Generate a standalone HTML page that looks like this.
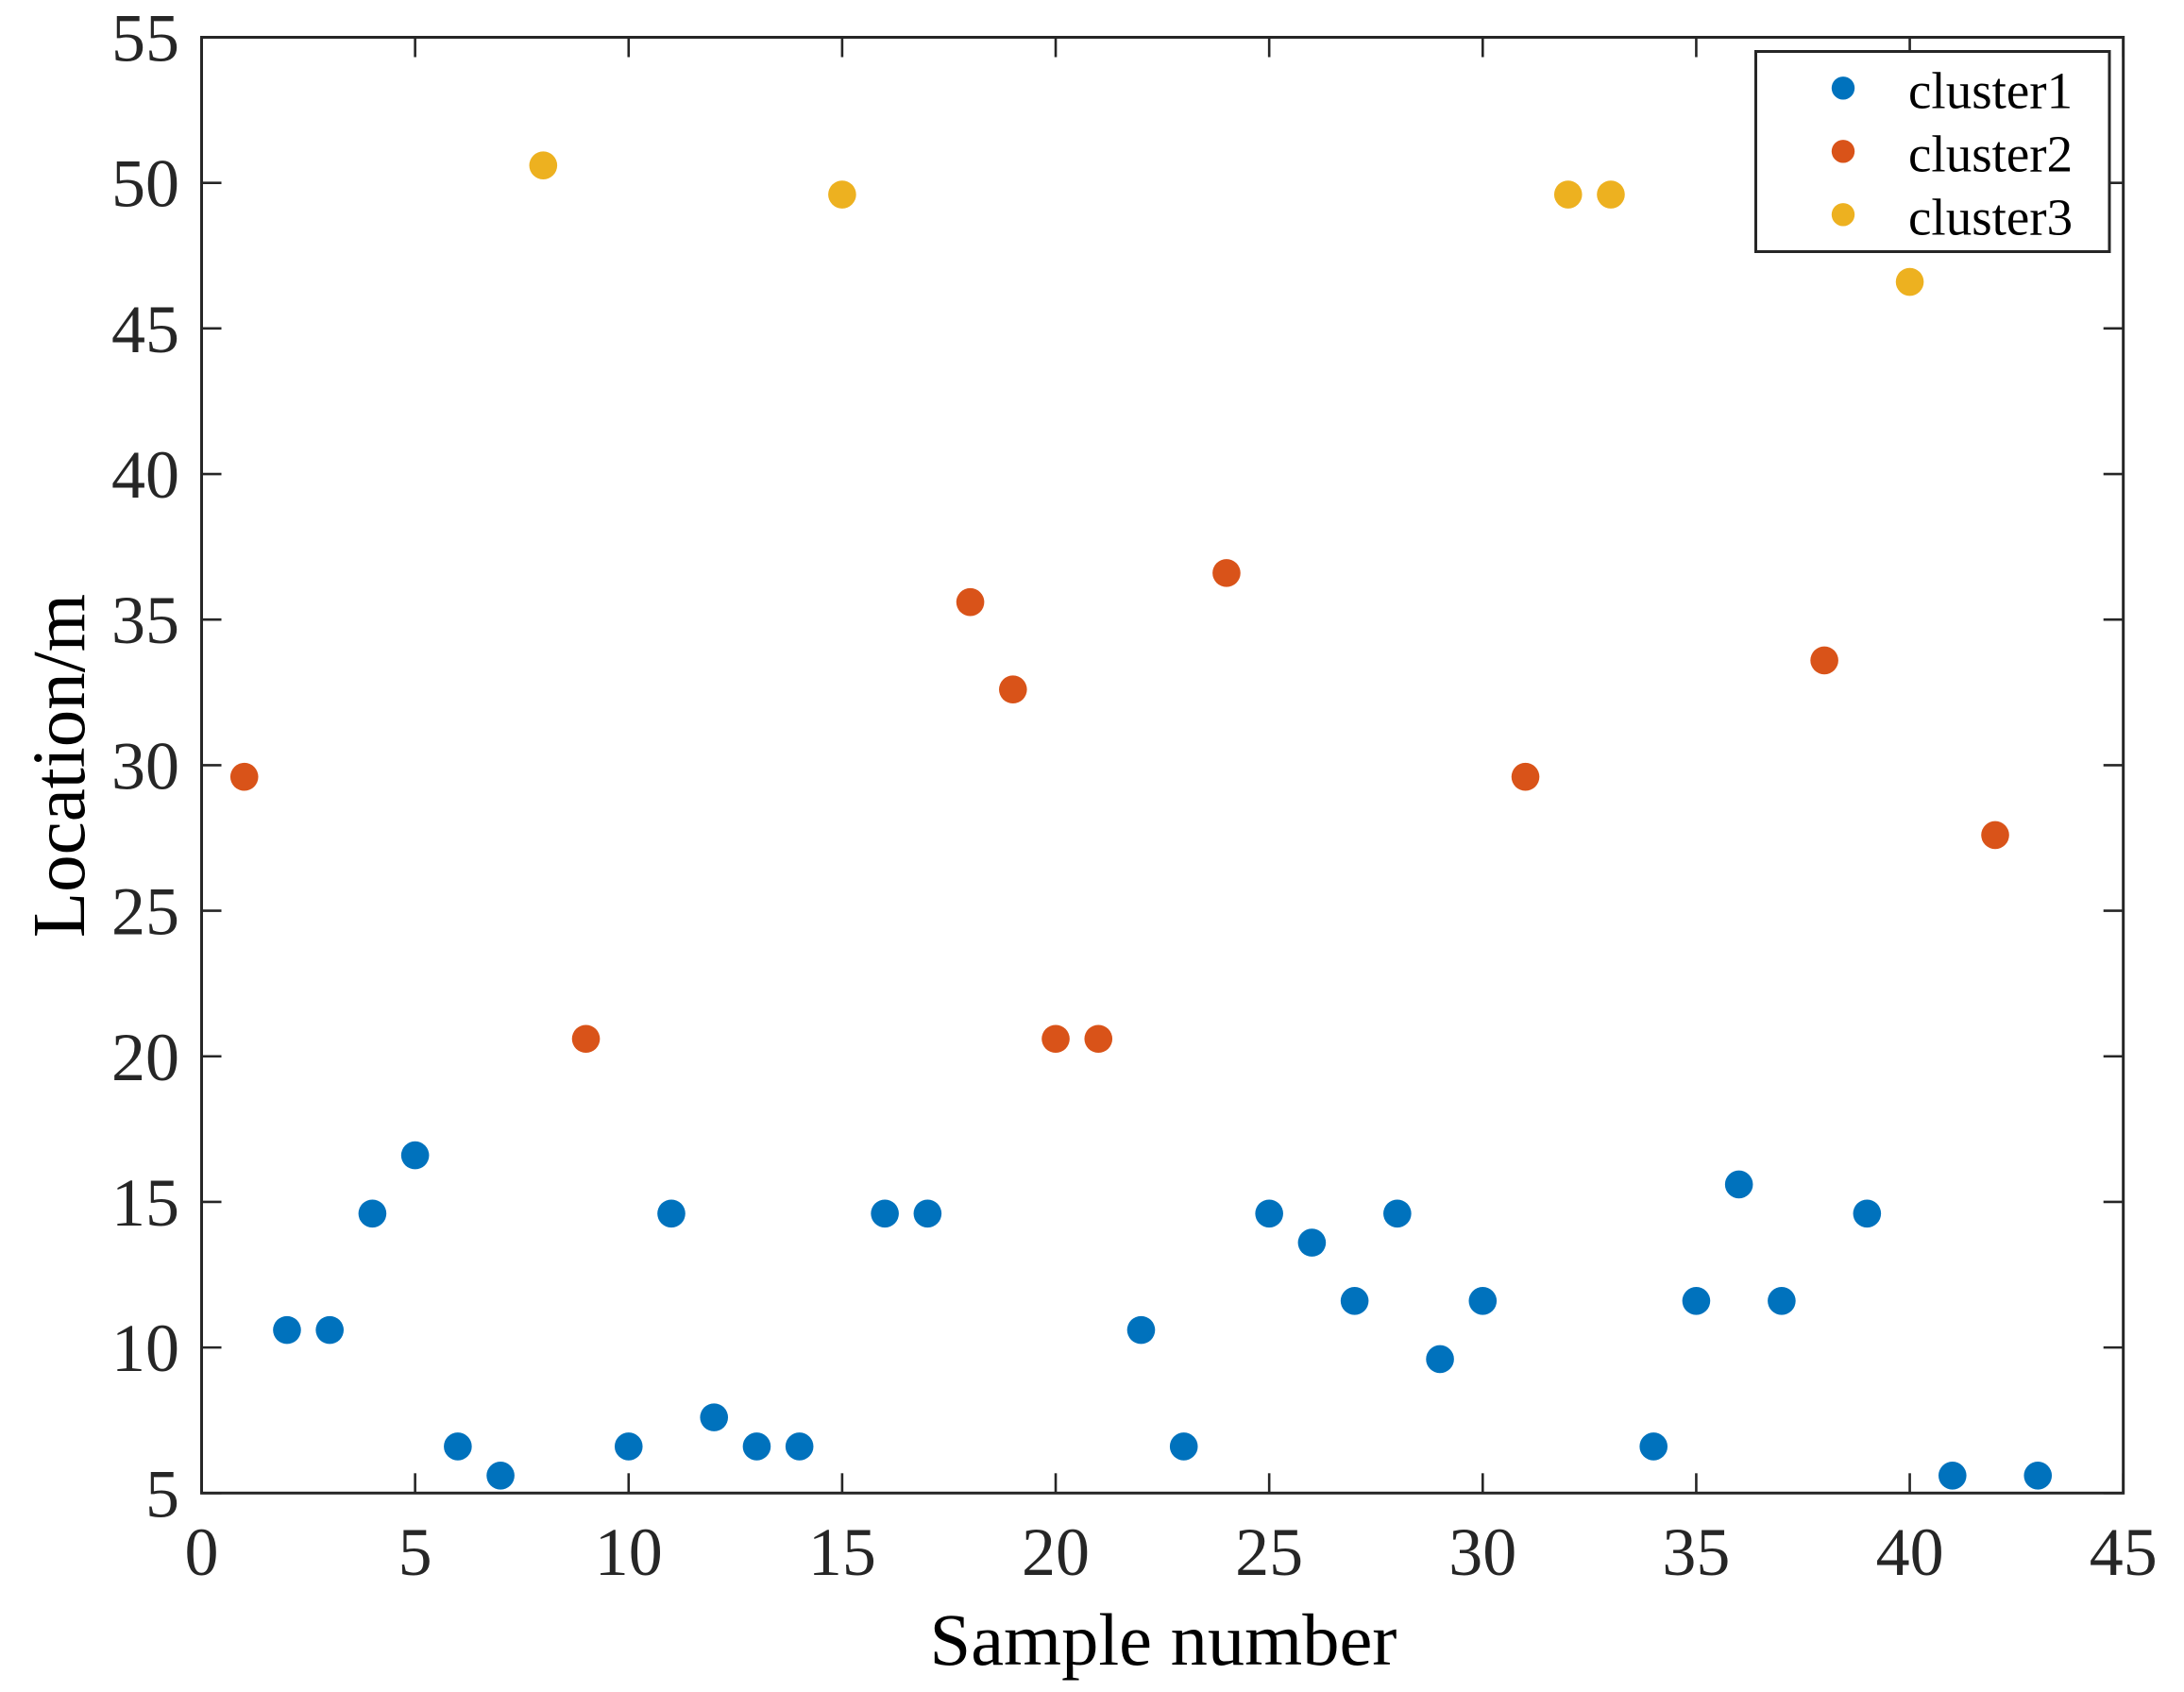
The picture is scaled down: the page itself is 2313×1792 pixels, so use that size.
<!DOCTYPE html>
<html lang="en">
<head>
<meta charset="utf-8">
<title>Sample location clusters</title>
<style>
html,body{margin:0;padding:0;background:#fff;}
svg{display:block;}
text{font-family:"Liberation Serif",serif;}
</style>
</head>
<body>
<svg id="chart" xmlns="http://www.w3.org/2000/svg" width="2313" height="1792" viewBox="0 0 2313 1792">
  <rect x="0" y="0" width="2313" height="1792" fill="#ffffff"/>
  <g id="ticks"></g>
  <g id="labels"></g>
  <g id="marks"></g>
  <rect x="213.5" y="39.5" width="2035.2" height="1541.8" fill="none" stroke="#262626" stroke-width="3"/>
  <text x="1232" y="1763" font-size="78.5" text-anchor="middle" fill="#000">Sample number</text>
  <text x="89" y="811" font-size="79" text-anchor="middle" fill="#000" transform="rotate(-90 89 811)">Location/m</text>
  <g id="legend">
    <rect x="1859.5" y="54.5" width="374.5" height="212" fill="#fff" stroke="#262626" stroke-width="3"/>
    <circle cx="1952" cy="93.3" r="12.2" fill="#0072BD"/>
    <text x="2021" y="114.5" font-size="55" fill="#000">cluster1</text>
    <circle cx="1952" cy="160.3" r="12.2" fill="#D95319"/>
    <text x="2021" y="181.5" font-size="55" fill="#000">cluster2</text>
    <circle cx="1952" cy="227.3" r="12.2" fill="#EDB120"/>
    <text x="2021" y="248.5" font-size="55" fill="#000">cluster3</text>
  </g>
</svg>
<script>
const xTickValues = [0, 5, 10, 15, 20, 25, 30, 35, 40, 45];
const yTickValues = [5, 10, 15, 20, 25, 30, 35, 40, 45, 50, 55];
const cluster1Samples = [2, 3, 4, 5, 6, 7, 10, 11, 12, 13, 14, 16, 17, 22, 23, 25, 26, 27, 28, 29, 30, 34, 35, 36, 37, 39, 41, 43];
const cluster1Locations = [10.6, 10.6, 14.6, 16.6, 6.6, 5.6, 6.6, 14.6, 7.6, 6.6, 6.6, 14.6, 14.6, 10.6, 6.6, 14.6, 13.6, 11.6, 14.6, 9.6, 11.6, 6.6, 11.6, 15.6, 11.6, 14.6, 5.6, 5.6];
const cluster2Samples = [1, 9, 18, 19, 20, 21, 24, 31, 38, 42];
const cluster2Locations = [29.6, 20.6, 35.6, 32.6, 20.6, 20.6, 36.6, 29.6, 33.6, 27.6];
const cluster3Samples = [8, 15, 32, 33, 40];
const cluster3Locations = [50.6, 49.6, 49.6, 49.6, 46.6];

const NS = 'http://www.w3.org/2000/svg';
const plot = { left: 213.5, right: 2248.7, top: 39.5, bottom: 1581.3 };
const xMin = 0, xMax = 45, yMin = 5, yMax = 55;
const TICK_LEN = 21;
function xScale(v) { return plot.left + (v - xMin) / (xMax - xMin) * (plot.right - plot.left); }
function yScale(v) { return plot.bottom - (v - yMin) / (yMax - yMin) * (plot.bottom - plot.top); }

const ticksGroup = document.getElementById('ticks');
const labelsGroup = document.getElementById('labels');
const marksGroup = document.getElementById('marks');

function addTick(x1, y1, x2, y2, name) {
  const line = document.createElementNS(NS, 'line');
  line.setAttribute('x1', x1);
  line.setAttribute('y1', y1);
  line.setAttribute('x2', x2);
  line.setAttribute('y2', y2);
  line.setAttribute('stroke', '#262626');
  line.setAttribute('stroke-width', '2.6');
  
  
  ticksGroup.appendChild(line);
}
function addLabel(x, y, anchor, content, name) {
  const t = document.createElementNS(NS, 'text');
  t.setAttribute('x', x);
  t.setAttribute('y', y);
  t.setAttribute('text-anchor', anchor);
  t.setAttribute('font-size', '72');
  t.setAttribute('fill', '#262626');
  
  
  t.textContent = content;
  labelsGroup.appendChild(t);
}
xTickValues.forEach(function (v) {
  const x = xScale(v);
  addTick(x, plot.bottom, x, plot.bottom - TICK_LEN, 'x-tick-bottom-' + v);
  addTick(x, plot.top, x, plot.top + TICK_LEN, 'x-tick-top-' + v);
  addLabel(x, 1668, 'middle', String(v), 'x-tick-label-' + v);
});
yTickValues.forEach(function (v) {
  const y = yScale(v);
  addTick(plot.left, y, plot.left + TICK_LEN, y, 'y-tick-left-' + v);
  addTick(plot.right, y, plot.right - TICK_LEN, y, 'y-tick-right-' + v);
  addLabel(190, y + 25, 'end', String(v), 'y-tick-label-' + v);
});
function drawSeries(samples, locations, color, seriesName) {
  samples.forEach(function (s, i) {
    const c = document.createElementNS(NS, 'circle');
    c.setAttribute('cx', xScale(s));
    c.setAttribute('cy', yScale(locations[i]));
    c.setAttribute('r', '14.8');
    c.setAttribute('fill', color);
    
    
    marksGroup.appendChild(c);
  });
}
drawSeries(cluster1Samples, cluster1Locations, '#0072BD', 'cluster1');
drawSeries(cluster2Samples, cluster2Locations, '#D95319', 'cluster2');
drawSeries(cluster3Samples, cluster3Locations, '#EDB120', 'cluster3');
</script>
</body>
</html>
